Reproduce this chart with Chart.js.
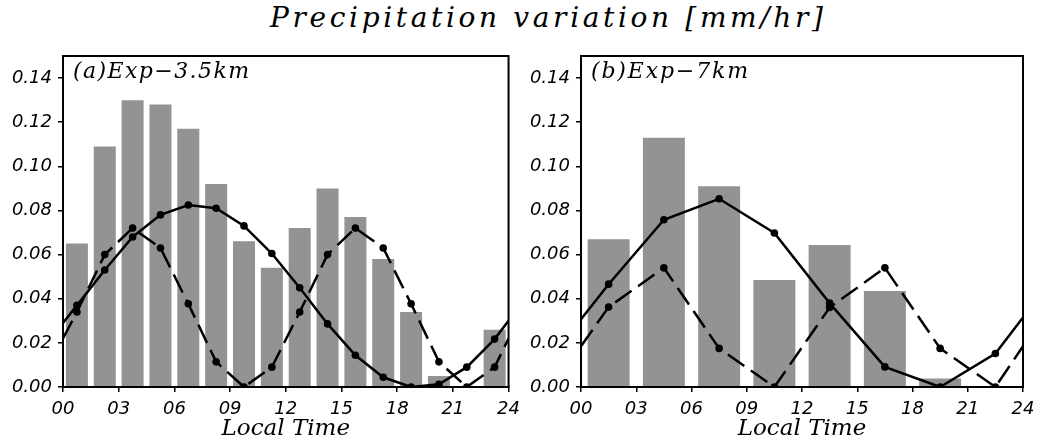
<!DOCTYPE html>
<html>
<head>
<meta charset="utf-8">
<script src="https://cdn.jsdelivr.net/npm/chart.js@4.4.1/dist/chart.umd.min.js"></script>
<style>
  body { margin: 0; background: #fff; width: 1054px; height: 448px; position: relative; overflow: hidden; }
  #title { position: absolute; top: 1px; left: 270px; white-space: nowrap; line-height: 32px;
           font: italic 28px 'DejaVu Serif'; color: #000; }
  canvas { position: absolute; top: 0; }
  #chartA { left: 0; }
  #chartB { left: 520px; }
</style>
</head>
<body>
<div id="title">Precipitation variation [mm/hr]</div>
<canvas id="chartA" width="527" height="448"></canvas>
<canvas id="chartB" width="534" height="448"></canvas>
<script>
// (a) Exp-3.5km : 1.5 h bins
const hoursA = [0.75, 2.25, 3.75, 5.25, 6.75, 8.25, 9.75, 11.25, 12.75, 14.25, 15.75, 17.25, 18.75, 20.25, 21.75, 23.25];
const barsA  = [0.065, 0.109, 0.130, 0.128, 0.117, 0.092, 0.066, 0.054, 0.072, 0.090, 0.077, 0.058, 0.034, 0.005, 0, 0.026];
const lineHoursA = [0, 0.75, 2.25, 3.75, 5.25, 6.75, 8.25, 9.75, 11.25, 12.75, 14.25, 15.75, 17.25, 18.75, 20.25, 21.75, 23.25, 24];
const solidA  = [0.029, 0.037, 0.053, 0.068, 0.078, 0.0825, 0.081, 0.073, 0.0605, 0.045, 0.0286, 0.0144, 0.0044, 0.0, 0.0012, 0.009, 0.0217, 0.030];
const dashedA = [0.022, 0.034, 0.060, 0.072, 0.063, 0.0377, 0.0114, 0.0, 0.009, 0.034, 0.060, 0.072, 0.063, 0.0377, 0.0114, 0.0, 0.009, 0.022];

// (b) Exp-7km : 3 h bins
const hoursB = [1.5, 4.5, 7.5, 10.5, 13.5, 16.5, 19.5, 22.5];
const barsB  = [0.067, 0.113, 0.091, 0.0485, 0.0644, 0.0435, 0.0038, 0];
const lineHoursB = [0, 1.5, 4.5, 7.5, 10.5, 13.5, 16.5, 19.5, 22.5, 24];
const solidB  = [0.0307, 0.0466, 0.0758, 0.0853, 0.0698, 0.038, 0.0091, 0, 0.0152, 0.0315];
const dashedB = [0.0185, 0.0362, 0.054, 0.0175, 0, 0.036, 0.054, 0.0175, 0, 0.0185];

const xTicks = ['00', '03', '06', '09', '12', '15', '18', '21', '24'];
const yMax = 0.15;

// fit the title to the reference width
(function () {
  const el = document.getElementById('title');
  const c = document.createElement('canvas').getContext('2d');
  c.font = "italic 28px 'DejaVu Serif'";
  const txt = el.textContent;
  const w = c.measureText(txt).width;
  el.style.letterSpacing = ((553 - w) / (txt.length - 1)) + 'px';
})();

const framePlugin = {
  id: 'frame',
  afterDatasetsDraw(chart) {
    const { ctx, chartArea: a } = chart;
    ctx.save();
    ctx.strokeStyle = '#000';
    ctx.lineWidth = 2;
    ctx.strokeRect(a.left, a.top, a.right - a.left, a.bottom - a.top);
    ctx.restore();
  }
};

const panelLabel = {
  id: 'panelLabel',
  afterDraw(chart, args, opts) {
    const { ctx, chartArea: a } = chart;
    ctx.save();
    ctx.font = "italic 22px 'DejaVu Serif'";
    ctx.fillStyle = '#000';
    ctx.textBaseline = 'alphabetic';
    const w = ctx.measureText(opts.text).width;
    ctx.letterSpacing = ((opts.width - w) / (opts.text.length - 1)) + 'px';
    ctx.fillText(opts.text, a.left + 10, a.top + 22);
    ctx.restore();
  }
};

function makePanel(id, label, labelWidth, hours, bars, lineHours, solid, dashed, yWidth, padRight, barPct) {
  const noEnds = c => (lineHours[c.dataIndex] === 0 || lineHours[c.dataIndex] === 24) ? 0 : 3.8;
  new Chart(document.getElementById(id), {
    type: 'bar',
    data: {
      datasets: [
        {
          type: 'line',
          data: lineHours.map((h, i) => ({ x: h, y: solid[i] })),
          borderColor: '#000', borderWidth: 2.5, tension: 0,
          pointRadius: noEnds, pointBackgroundColor: '#000', pointBorderWidth: 0,
          order: 1
        },
        {
          type: 'line',
          data: lineHours.map((h, i) => ({ x: h, y: dashed[i] })),
          borderColor: '#000', borderWidth: 2.5, borderDash: [20, 8], tension: 0,
          pointRadius: noEnds, pointBackgroundColor: '#000', pointBorderWidth: 0,
          order: 1
        },
        {
          data: hours.map((h, i) => ({ x: h, y: bars[i] })),
          backgroundColor: '#939393',
          barPercentage: barPct, categoryPercentage: 1,
          order: 2
        }
      ]
    },
    options: {
      responsive: false,
      animation: false,
      layout: { padding: { top: 56, right: padRight, left: 0, bottom: 0 } },
      plugins: {
        legend: { display: false },
        tooltip: { enabled: false },
        panelLabel: { text: label, width: labelWidth }
      },
      scales: {
        x: {
          type: 'linear', min: 0, max: 24, offset: false,
          afterFit: s => { s.height = 61; },
          grid: { offset: false, drawOnChartArea: false, drawTicks: true, tickLength: 5, color: '#000', lineWidth: 1.5 },
          border: { display: true, color: '#000', width: 2 },
          ticks: {
            stepSize: 3, padding: 7, maxRotation: 0, autoSkip: false, color: '#000',
            font: { family: 'DejaVu Sans', size: 18, style: 'italic' },
            callback: v => xTicks[v / 3]
          },
          title: {
            display: true, text: 'Local Time', color: '#000',
            font: { family: 'DejaVu Serif', size: 23, style: 'italic' },
            padding: { top: 0, bottom: 5 }
          }
        },
        y: {
          min: 0, max: yMax,
          afterFit: s => { s.width = yWidth; },
          grid: { drawOnChartArea: false, drawTicks: true, tickLength: 5, color: '#000', lineWidth: 1.5 },
          border: { display: true, color: '#000', width: 2 },
          ticks: {
            stepSize: 0.02, includeBounds: false, padding: 6, color: '#000',
            font: { family: 'DejaVu Sans', size: 18, style: 'italic' },
            callback: v => v.toFixed(2)
          }
        }
      }
    },
    plugins: [framePlugin, panelLabel]
  });
}

makePanel('chartA', '(a)Exp\u22123.5km', 176, hoursA, barsA, lineHoursA, solidA, dashedA, 63, 18, 0.79);
makePanel('chartB', '(b)Exp\u22127km', 157, hoursB, barsB, lineHoursB, solidB, dashedB, 61, 31, 0.76);
</script>
</body>
</html>
